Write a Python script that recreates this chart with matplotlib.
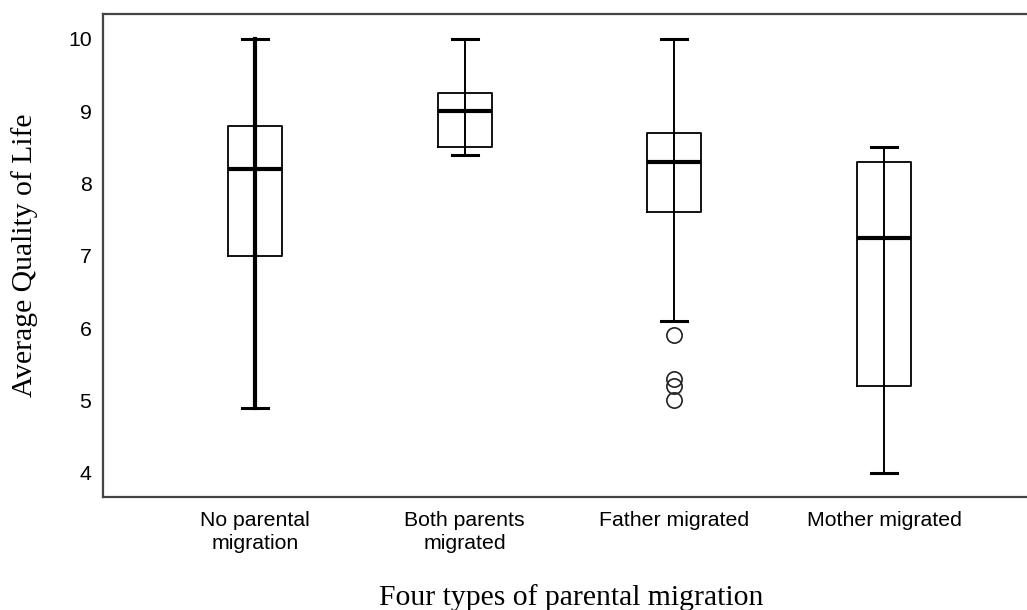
import matplotlib
matplotlib.use("Agg")
import matplotlib.pyplot as plt

# values
groups = ["No parental\nmigration", "Both parents\nmigrated", "Father migrated", "Mother migrated"]
whisker_low = [4.9, 8.4, 6.1, 4.0]
q1 = [7.0, 8.5, 7.6, 5.2]
median = [8.2, 9.0, 8.3, 7.25]
q3 = [8.8, 9.25, 8.7, 8.3]
whisker_high = [10.0, 10.0, 10.0, 8.5]
outliers = [[], [], [5.9, 5.3, 5.2, 5.0], []]
yticks = [4, 5, 6, 7, 8, 9, 10]

stats = []
for i in range(len(groups)):
    stats.append({"whislo": whisker_low[i], "q1": q1[i], "med": median[i],
                  "q3": q3[i], "whishi": whisker_high[i], "fliers": outliers[i]})

pos = list(range(len(groups)))
# first group has heavier whisker lines in the original
stem_lw = [3.0, 1.4, 1.4, 1.4]

fig = plt.figure(figsize=(10.27, 6.1), dpi=100)
# right spine sits just outside the picture, as in the source image
ax = fig.add_axes([0.1006, 0.1848, 0.9043, 0.7918])

bp = ax.bxp(stats, positions=pos, widths=0.258, showfliers=True,
            boxprops=dict(color="black", linewidth=1.3),
            medianprops=dict(color="black", linewidth=3.0),
            whiskerprops=dict(color="black", linewidth=1.4),
            capprops=dict(color="black", linewidth=2.2),
            flierprops=dict(marker="o", markersize=11, markerfacecolor="none",
                            markeredgecolor="#222222", markeredgewidth=1.2),
            capwidths=0.125)
for i in range(len(groups)):
    bp["whiskers"][2 * i].set_linewidth(stem_lw[i])
    bp["whiskers"][2 * i + 1].set_linewidth(stem_lw[i])
# SPSS draws the whisker line straight through the box
ax.vlines(pos, q1, q3, colors="black", linewidths=stem_lw, zorder=3)

ax.set_xlim(-0.723, 3.706)
ax.set_ylim(3.660, 10.342)
ax.set_yticks(yticks)
ax.set_xticks(pos)
ax.set_xticklabels(groups, fontsize=15.3, family="Liberation Sans", linespacing=1.28)
ax.set_yticklabels([str(v) for v in yticks], fontsize=15.3, family="Liberation Sans")
ax.tick_params(axis="x", length=0, pad=10)
ax.tick_params(axis="y", length=0, pad=8.5)

for s in ax.spines.values():
    s.set_linewidth(1.6)
    s.set_color("#444444")

fig.text(0.5565, 0.009, "Four types of parental migration", family="Liberation Serif",
         fontsize=21.3, ha="center", va="baseline")
fig.text(0.0243, 0.581, "Average Quality of Life", family="Liberation Serif",
         fontsize=21.3, rotation=90, ha="center", va="center")

fig.savefig("out.png", dpi=100)
